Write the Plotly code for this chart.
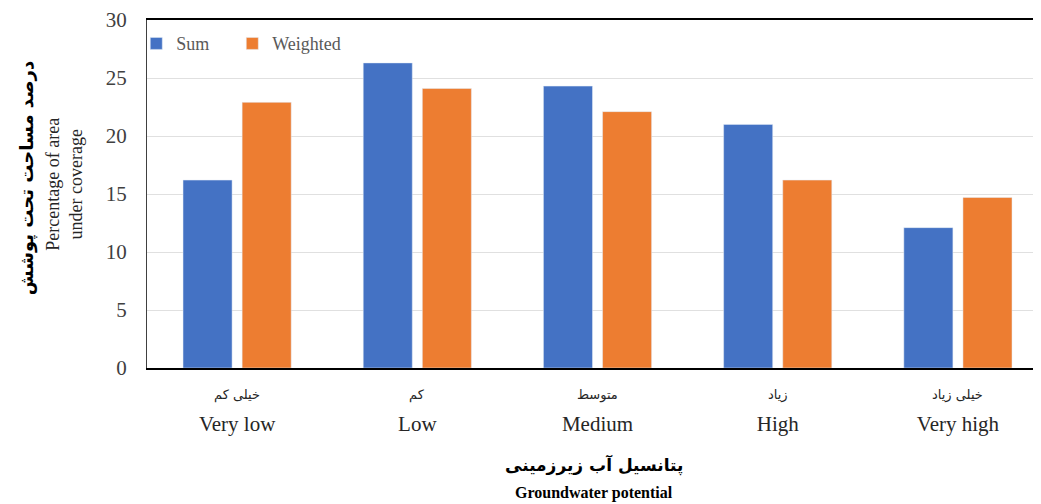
import plotly.graph_objects as go

categories_en = ["Very low", "Low", "Medium", "High", "Very high"]
categories_fa = ["خیلی کم", "کم", "متوسط", "زیاد", "خیلی زیاد"]
sum_values = [16.2, 26.3, 24.3, 21.0, 12.1]
weighted_values = [22.9, 24.1, 22.1, 16.2, 14.7]
y_ticks = [0, 5, 10, 15, 20, 25, 30]

SERIF = "Liberation Serif, Times New Roman, serif"
ARAB = "DejaVu Sans, Noto Sans, sans-serif"

x_idx = list(range(len(categories_en)))

fig = go.Figure()
fig.add_trace(go.Bar(x=x_idx, y=sum_values, name="Sum&nbsp;&nbsp;&nbsp;&nbsp;", marker_color="#4472C4"))
fig.add_trace(go.Bar(x=x_idx, y=weighted_values, name="Weighted", marker_color="#ED7D31"))

for i, lab in enumerate(categories_fa):
    fig.add_annotation(x=i, y=-0.078, xref="x", yref="paper", text=lab, showarrow=False,
                       font=dict(family=ARAB, size=13, color="#262626"), yanchor="middle")

fig.add_annotation(x=0.5, y=-0.279, xref="paper", yref="paper", text="<b>پتانسیل آب زیرزمینی</b>",
                   showarrow=False, font=dict(family=ARAB, size=17, color="#000000"), yanchor="middle")
fig.add_annotation(x=0.5, y=-0.36, xref="paper", yref="paper", text="<b>Groundwater potential</b>",
                   showarrow=False, font=dict(family=SERIF, size=16, color="#000000"), yanchor="middle")

fig.add_annotation(x=-0.134, y=0.546, xref="paper", yref="paper", text="<b>درصد مساحت تحت پوشش</b>",
                   showarrow=False, textangle=-90, font=dict(family=ARAB, size=18, color="#000000"),
                   xanchor="center", yanchor="middle")
fig.add_annotation(x=-0.092, y=0.529, xref="paper", yref="paper", text="Percentage of area<br>under coverage",
                   showarrow=False, textangle=-90, font=dict(family=SERIF, size=18, color="#262626"),
                   xanchor="center", yanchor="middle")

fig.update_layout(
    width=1033, height=496,
    margin=dict(l=139, r=0, t=12, b=136),
    paper_bgcolor="white", plot_bgcolor="white",
    barmode="group", bargap=0.344, bargroupgap=0.17,
    legend=dict(orientation="h", x=-0.012, y=0.985, xanchor="left", yanchor="top",
                font=dict(family=SERIF, size=18, color="#595959"), bgcolor="rgba(0,0,0,0)",
                itemwidth=30),
    xaxis=dict(tickmode="array", tickvals=x_idx, ticktext=categories_en,
               range=[-0.5, 4.461], showline=True, linecolor="#000000", linewidth=1.5, mirror=True,
               ticks="", tickfont=dict(family=SERIF, size=21, color="#262626"),
               ticklabelstandoff=36, showgrid=False, fixedrange=True),
    yaxis=dict(range=[0, 30], tickvals=y_ticks, showline=True, linecolor="#404040", linewidth=1.2, mirror=True,
               showgrid=True, gridcolor="#E0E0E0", gridwidth=1, ticks="",
               tickfont=dict(family=SERIF, size=21, color="#404040"), ticklabelstandoff=15,
               zeroline=False, fixedrange=True),
    showlegend=True,
)

fig.write_html("out.html")
